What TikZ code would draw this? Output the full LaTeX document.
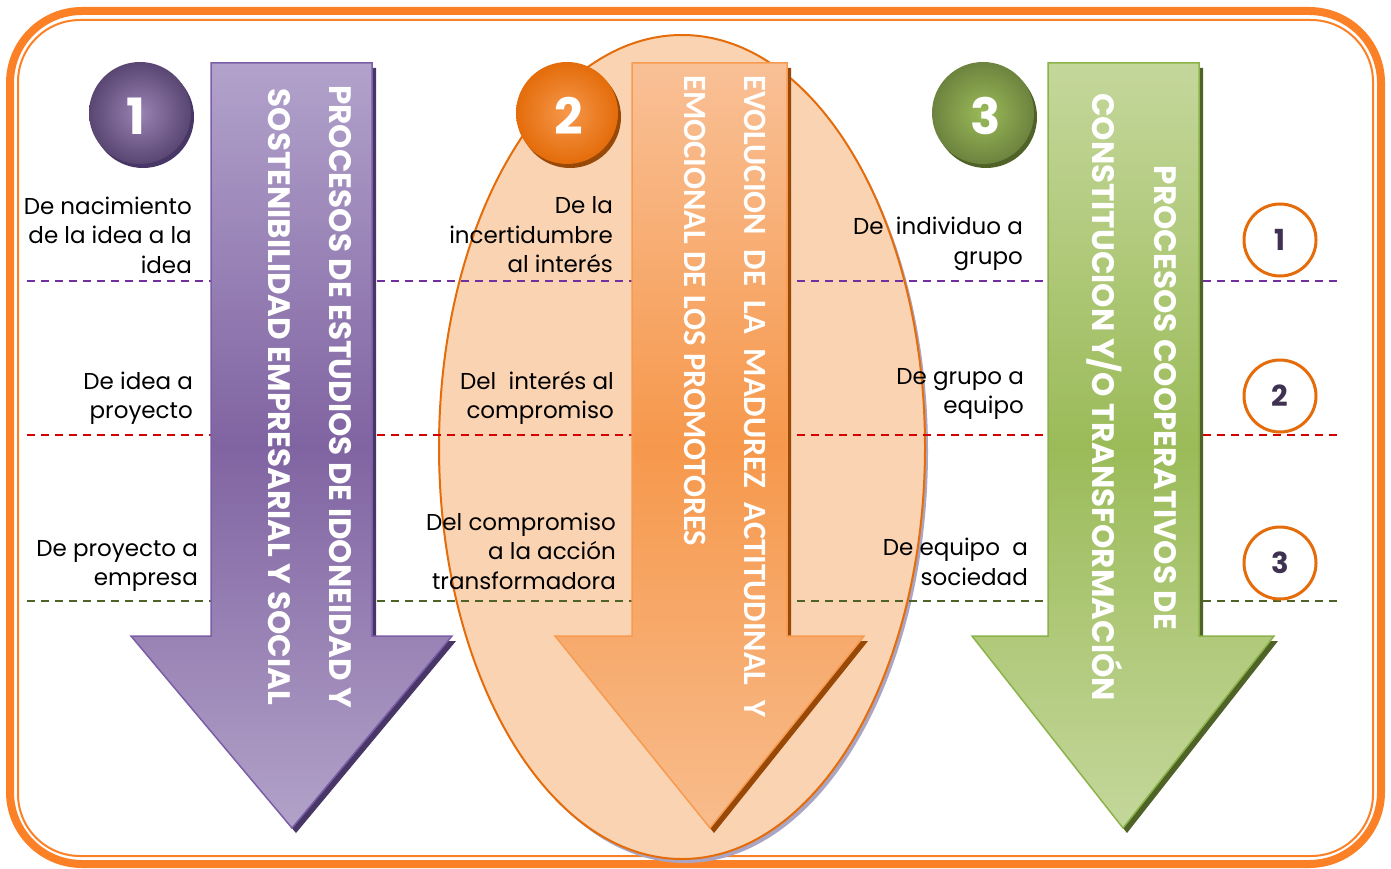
\documentclass[tikz,border=0pt]{standalone}
\usepackage{fontspec}
\setmainfont{Poppins}
\newfontfamily\calfont{Carlito}
\usetikzlibrary{shadings}
\definecolor{frameor}{RGB}{252,128,38}
\definecolor{ellfill}{RGB}{250,211,178}
\definecolor{elldraw}{RGB}{228,108,10}
\definecolor{ellshadow}{RGB}{170,165,195}
\definecolor{pTop}{RGB}{178,162,203}
\definecolor{pMid}{RGB}{128,100,162}
\definecolor{pBot}{RGB}{178,162,200}
\definecolor{pLine}{RGB}{123,94,167}
\definecolor{pDark}{RGB}{72,54,102}
\definecolor{oTop}{RGB}{249,192,150}
\definecolor{oMid}{RGB}{246,152,76}
\definecolor{oBot}{RGB}{248,188,140}
\definecolor{oLine}{RGB}{246,155,80}
\definecolor{oDark}{RGB}{152,72,7}
\definecolor{gTop}{RGB}{196,215,155}
\definecolor{gMid}{RGB}{155,187,89}
\definecolor{gBot}{RGB}{196,215,155}
\definecolor{gLine}{RGB}{140,178,74}
\definecolor{gDark}{RGB}{79,98,40}
\definecolor{numdark}{RGB}{63,49,81}
\definecolor{dashp}{RGB}{112,48,160}
\definecolor{dashr}{RGB}{210,0,0}
\definecolor{dashg}{RGB}{79,98,40}
\tikzset{
  bodytxt/.style={font=\fontsize{23}{29.5}\selectfont, align=right, inner sep=0pt, anchor=east, text=black},
  arrowtxt/.style={font=\fontsize{31}{34}\selectfont\bfseries, text=white, rotate=-90, inner sep=0pt},
  arrowtxtb/.style={font=\calfont\fontsize{32.5}{34}\selectfont\bfseries, text=white, rotate=-90, inner sep=0pt, anchor=west},
  sepline/.style={line width=1.5pt, dash pattern=on 8pt off 6pt},
  smallcirc/.style={circle, draw=elldraw, line width=3pt, minimum size=72pt, inner sep=0pt, fill=white,
    font=\fontsize{29}{30}\selectfont\bfseries, text=numdark},
  bignum/.style={font=\fontsize{50}{52}\selectfont\bfseries, text=white, inner sep=0pt}
}
\begin{document}
\begin{tikzpicture}[x=1pt,y=-1pt]
\useasboundingbox (0,0) rectangle (1391,869);
\fill[white] (0,0) rectangle (1391,869);
% frame
\draw[frameor, line width=8pt, rounded corners=72pt] (10,11) rectangle (1381,864);
\draw[frameor, line width=2pt, rounded corners=62pt] (18,20) rectangle (1373,856);
% ellipse
\fill[ellshadow] (685,451) ellipse [x radius=243, y radius=412];
\draw[fill=ellfill, draw=elldraw, line width=2pt] (682,447) ellipse [x radius=243, y radius=412];
% dashed separators
\coordinate (lp1) at (27,281); \coordinate (lp2) at (1337,281);
\coordinate (lr1) at (27,435); \coordinate (lr2) at (1337,435);
\coordinate (lg1) at (27,601); \coordinate (lg2) at (1337,601);
\draw[sepline, dashp] (lp1) -- (lp2);
\draw[sepline, dashr] (lr1) -- (lr2);
\draw[sepline, dashg] (lg1) -- (lg2);
% arrow 1
\fill[pDark, shift={(4,5)}] (211,63) -- (372,63) -- (372,636) -- (452,636) -- (292,828) -- (131,636) -- (211,636) -- cycle;
\shade[top color=pTop, bottom color=pBot, middle color=pMid] (211,63) -- (372,63) -- (372,636) -- (452,636) -- (292,828) -- (131,636) -- (211,636) -- cycle;
\draw[pLine, line width=1.5pt] (211,63) -- (372,63) -- (372,636) -- (452,636) -- (292,828) -- (131,636) -- (211,636) -- cycle;
% arrow 2
\fill[oDark, shift={(4,5)}] (632,63) -- (787,63) -- (787,636) -- (864,636) -- (710,828) -- (555,636) -- (632,636) -- cycle;
\shade[top color=oTop, bottom color=oBot, middle color=oMid] (632,63) -- (787,63) -- (787,636) -- (864,636) -- (710,828) -- (555,636) -- (632,636) -- cycle;
\draw[oLine, line width=1.5pt] (632,63) -- (787,63) -- (787,636) -- (864,636) -- (710,828) -- (555,636) -- (632,636) -- cycle;
% arrow 3
\fill[gDark, shift={(4,5)}] (1048,63) -- (1199,63) -- (1199,636) -- (1274,636) -- (1123,828) -- (972,636) -- (1048,636) -- cycle;
\shade[top color=gTop, bottom color=gBot, middle color=gMid] (1048,63) -- (1199,63) -- (1199,636) -- (1274,636) -- (1123,828) -- (972,636) -- (1048,636) -- cycle;
\draw[gLine, line width=1.5pt] (1048,63) -- (1199,63) -- (1199,636) -- (1274,636) -- (1123,828) -- (972,636) -- (1048,636) -- cycle;
% arrow texts
\node[arrowtxt] (a1l1) at (340,397) {PROCESOS DE ESTUDIOS DE IDONEIDAD Y};
\node[arrowtxt] (a1l2) at (279,397) {SOSTENIBILIDAD EMPRESARIAL Y SOCIAL};
\node[arrowtxtb] (a2l1) at (755,75) {EVOLUCION\ \ DE\ \ LA\ \ MADUREZ\ \ ACTITUDINAL\ \ Y};
\node[arrowtxtb] (a2l2) at (695,75) {EMOCIONAL DE LOS PROMOTORES};
\node[arrowtxt] (a3l1) at (1165,398) {PROCESOS COOPERATIVOS DE};
\node[arrowtxt] (a3l2) at (1105,397) {CONSTITUCION Y/O TRANSFORMACIÓN};
% big balls
\fill[pDark] (143,117) circle [radius=51];
\shade[inner color=pMid!80!white, outer color=pMid!70!black] (140,113) circle [radius=51];
\node[bignum] (b1) at (136,116) {1};
\fill[oDark] (570,117) circle [radius=51];
\shade[inner color=oMid, outer color=elldraw] (567,113) circle [radius=51];
\node[bignum] (b2) at (569,116) {2};
\fill[gDark] (986,117) circle [radius=51];
\shade[inner color=gMid, outer color=gMid!70!black] (983,113) circle [radius=51];
\node[bignum] (b3) at (986,116) {3};
% small circles
\node[smallcirc] (s1) at (1280,240) {1};
\node[smallcirc] (s2) at (1280,396) {2};
\node[smallcirc] (s3) at (1280,563) {3};
% body texts
\node[bodytxt] (l1) at (192,235) {De nacimiento\\de la idea a la\\idea};
\node[bodytxt] (l2) at (193,398) {De idea a\\proyecto};
\node[bodytxt] (l3) at (198,566) {De proyecto a\\empresa};
\node[bodytxt] (m1) at (613,235) {De la\\incertidumbre\\al interés};
\node[bodytxt] (m2) at (614,398) {Del\ \ interés al\\compromiso};
\node[bodytxt] (m3) at (616,551) {Del compromiso\\a la acción\\transformadora};
\node[bodytxt] (r1) at (1023,244) {De\ \ individuo a\\grupo};
\node[bodytxt] (r2) at (1024,394) {De grupo a\\equipo};
\node[bodytxt] (r3) at (1028,562) {De equipo\ \ a\\sociedad};
\end{tikzpicture}
\end{document}
